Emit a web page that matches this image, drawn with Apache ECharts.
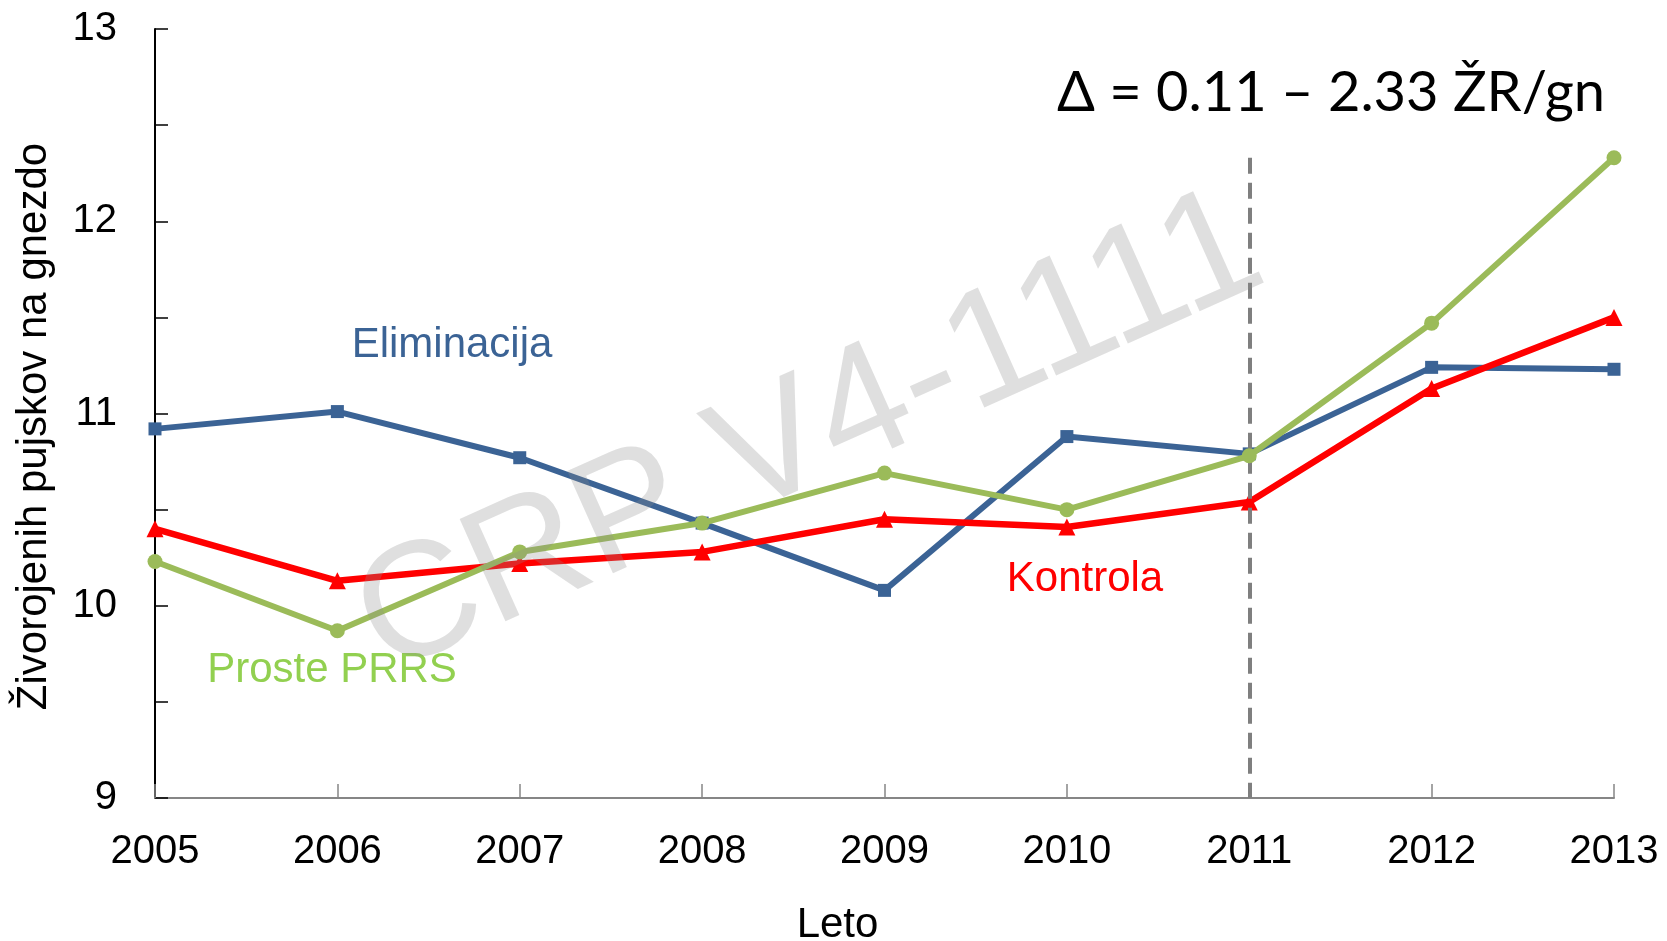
<!DOCTYPE html>
<html>
<head>
<meta charset="utf-8">
<script src="https://cdn.jsdelivr.net/npm/echarts@6/dist/echarts.min.js"></script>
<style>
  html, body { margin: 0; padding: 0; background: #fff; }
  #box { width: 1667px; height: 941px; }
</style>
</head>
<body>
<div id="box"></div>
<script>
// podatki
let years = ['2005', '2006', '2007', '2008', '2009', '2010', '2011', '2012', '2013'];
let eliminacija = [10.92, 11.01, 10.77, 10.43, 10.08, 10.88, 10.79, 11.24, 11.23];
let kontrola = [10.40, 10.13, 10.22, 10.28, 10.45, 10.41, 10.54, 11.13, 11.50];
let prosteprrs = [10.23, 9.87, 10.28, 10.43, 10.69, 10.50, 10.78, 11.47, 12.33];
let yTicks = [9, 10, 11, 12, 13];
let cutYear = '2011';
let cutTop = 12.33;

window.addEventListener('load', function () {
    let box = document.querySelector('#box');
    let mychart = echarts.init(box);
    let font = 'Arial, "Liberation Sans", sans-serif';

    let options = {
        backgroundColor: '#ffffff',
        animation: false,
        grid: { left: 155, right: 53, top: 29, bottom: 143, containLabel: false, outerBoundsMode: 'none' },
        xAxis: {
            type: 'category',
            data: years,
            boundaryGap: false,
            name: 'Leto',
            nameLocation: 'middle',
            nameGap: 106,
            nameTextStyle: { fontFamily: font, fontSize: 42, color: '#000', padding: [0, 94, 0, 0] },
            axisLine: { lineStyle: { color: '#868686', width: 2 } },
            axisTick: { inside: true, length: 14, lineStyle: { color: '#868686', width: 1.5 } },
            axisLabel: { fontFamily: font, fontSize: 40, color: '#000', margin: 34 },
            splitLine: { show: false }
        },
        yAxis: {
            type: 'value',
            min: yTicks[0],
            max: yTicks[yTicks.length - 1],
            interval: 0.5,
            name: 'Živorojenih pujskov na gnezdo',
            nameLocation: 'middle',
            nameGap: 100,
            nameTextStyle: { fontFamily: font, fontSize: 42, color: '#000', padding: [0, 26, 0, 0] },
            axisLine: { show: true, lineStyle: { color: '#000', width: 2 } },
            axisTick: { show: true, inside: true, length: 13, lineStyle: { color: '#000', width: 1.5 } },
            axisLabel: {
                fontFamily: font, fontSize: 40, color: '#000', margin: 38,
                formatter: function (v) { return yTicks.indexOf(v) >= 0 ? String(v) : ''; }
            },
            splitLine: { show: false }
        },
        series: [
            {
                name: 'Eliminacija',
                type: 'line',
                data: eliminacija,
                symbol: 'rect',
                symbolSize: 13,
                itemStyle: { color: '#3b6395' },
                lineStyle: { color: '#3b6395', width: 6 },
                z: 3
            },
            {
                name: 'Kontrola',
                type: 'line',
                data: kontrola,
                symbol: 'triangle',
                symbolSize: 17,
                itemStyle: { color: '#ff0000' },
                lineStyle: { color: '#ff0000', width: 6.5 },
                z: 4
            },
            {
                name: 'Proste PRRS',
                type: 'line',
                data: prosteprrs,
                symbol: 'circle',
                symbolSize: 15,
                itemStyle: { color: '#9bbb59' },
                lineStyle: { color: '#9bbb59', width: 6 },
                z: 5,
                markLine: {
                    silent: true,
                    symbol: 'none',
                    label: { show: false },
                    lineStyle: { color: '#7f7f7f', width: 4, type: [16, 9] },
                    data: [[{ coord: [cutYear, cutTop] }, { coord: [cutYear, yTicks[0]] }]]
                }
            }
        ],
        graphic: [
            {
                type: 'text', x: 1331, y: 93, z: 10,
                style: {
                    text: 'Δ = 0.11 – 2.33 ŽR/gn',
                    fontFamily: 'Lato, "Open Sans", sans-serif',
                    fontSize: 56, fill: '#000',
                    align: 'center', verticalAlign: 'middle'
                }
            },
            {
                type: 'text', x: 452, y: 345, z: 10,
                style: { text: 'Eliminacija', fontFamily: font, fontSize: 42, fill: '#3b6395', align: 'center', verticalAlign: 'middle' }
            },
            {
                type: 'text', x: 1085, y: 579, z: 10,
                style: { text: 'Kontrola', fontFamily: font, fontSize: 42, fill: '#ff0000', align: 'center', verticalAlign: 'middle' }
            },
            {
                type: 'text', x: 332, y: 670, z: 10,
                style: { text: 'Proste PRRS', fontFamily: font, fontSize: 42, fill: '#92d050', align: 'center', verticalAlign: 'middle' }
            },
            {
                type: 'text', x: 810, y: 436, rotation: 0.42, z: 20,
                style: {
                    text: 'CRP V4-1111', fontFamily: font, fontSize: 163,
                    fill: 'rgba(140,140,140,0.28)', align: 'center', verticalAlign: 'middle'
                }
            }
        ]
    };

    mychart.setOption(options);
});
</script>
</body>
</html>
